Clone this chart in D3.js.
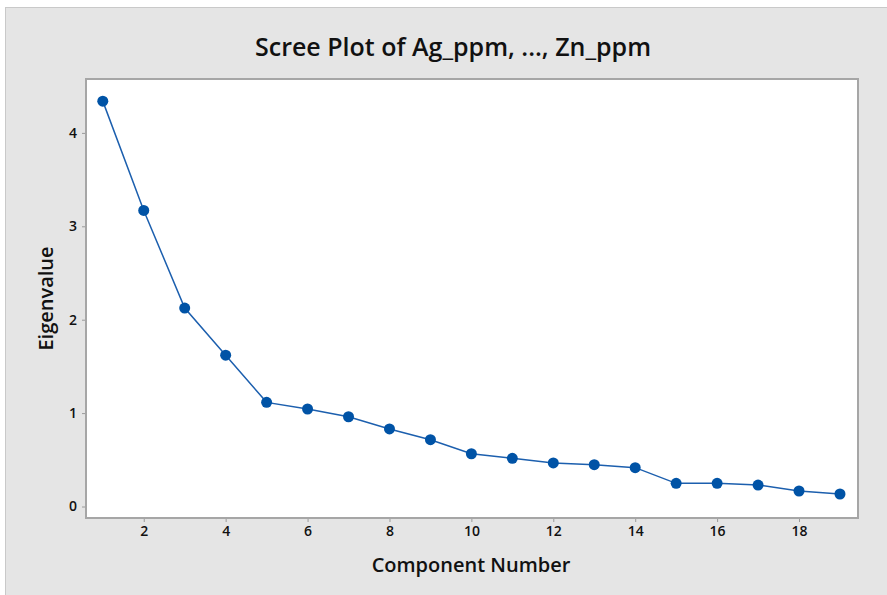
<!DOCTYPE html>
<html>
<head>
<meta charset="utf-8">
<script src="https://cdn.jsdelivr.net/npm/d3@7"></script>
<style>
  body { margin: 0; background: #fff; }
  svg text { font-family: "Open Sans", "Noto Sans", sans-serif; fill: #111; }
  .tick text { font-size: 14px; font-weight: 600; }
</style>
</head>
<body>
<svg id="chart" width="887" height="595"></svg>
<script>
// component numbers and eigenvalues
const components = d3.range(1, 20);
const eigenvalues = [4.34, 3.17, 2.125, 1.62, 1.115, 1.044, 0.961, 0.83, 0.715,
  0.565, 0.516, 0.466, 0.448, 0.416, 0.248, 0.248, 0.23, 0.166, 0.134];
const xTicks = [2, 4, 6, 8, 10, 12, 14, 16, 18];
const yTicks = [0, 1, 2, 3, 4];

const MARGIN = { top: 79, right: 29, bottom: 77, left: 86 };
const W = 887, H = 595;
const w = W - MARGIN.left - MARGIN.right,
  h = H - MARGIN.top - MARGIN.bottom;

const svg = d3.select('#chart');

// outer frame
svg.append('rect')
  .attr('x', 5.5).attr('y', 7.5)
  .attr('width', W).attr('height', H)
  .attr('fill', '#e5e5e5')
  .attr('stroke', '#c9c9c9');

svg.append('text')
  .attr('x', 453).attr('y', 56)
  .attr('text-anchor', 'middle')
  .style('font-size', '25px').style('font-weight', 600)
  .text('Scree Plot of Ag_ppm, ..., Zn_ppm');

const g = svg.append('g')
  .attr('transform', 'translate(' + MARGIN.left + ',' + MARGIN.top + ')');

const x = d3.scaleLinear().domain([0.59, 19.44]).range([0, w]);
const y = d3.scaleLinear().domain([-0.123, 4.577]).range([h, 0]);

g.append('rect')
  .attr('width', w).attr('height', h)
  .attr('fill', '#fff');

const xAxis = g.append('g')
  .attr('transform', 'translate(0,' + h + ')')
  .call(d3.axisBottom(x).tickValues(xTicks).tickFormat(d3.format('d')).tickSize(4).tickPadding(4));
const yAxis = g.append('g')
  .call(d3.axisLeft(y).tickValues(yTicks).tickFormat(d3.format('d')).tickSize(4).tickPadding(5));
[xAxis, yAxis].forEach(a => {
  a.select('.domain').remove();
  a.selectAll('line').attr('stroke', '#9a9a9a');
});

// plot border
g.append('rect')
  .attr('width', w).attr('height', h)
  .attr('fill', 'none')
  .attr('stroke', '#a6a6a6').attr('stroke-width', 2);

const data = components.map((c, i) => ({ c, v: eigenvalues[i] }));

g.append('path')
  .datum(data)
  .attr('fill', 'none')
  .attr('stroke', '#1c5fae')
  .attr('stroke-width', 1.5)
  .attr('d', d3.line().x(d => x(d.c)).y(d => y(d.v)));

g.selectAll('circle')
  .data(data)
  .enter()
  .append('circle')
  .attr('cx', d => x(d.c))
  .attr('cy', d => y(d.v))
  .attr('r', 5.5)
  .attr('fill', '#0053a6');

svg.append('text')
  .attr('x', 471).attr('y', 572)
  .attr('text-anchor', 'middle')
  .style('font-size', '20px').style('font-weight', 600)
  .text('Component Number');

svg.append('text')
  .attr('transform', 'translate(53,' + (MARGIN.top + h / 2) + ') rotate(-90)')
  .attr('text-anchor', 'middle')
  .style('font-size', '20px').style('font-weight', 600)
  .text('Eigenvalue');
</script>
</body>
</html>
